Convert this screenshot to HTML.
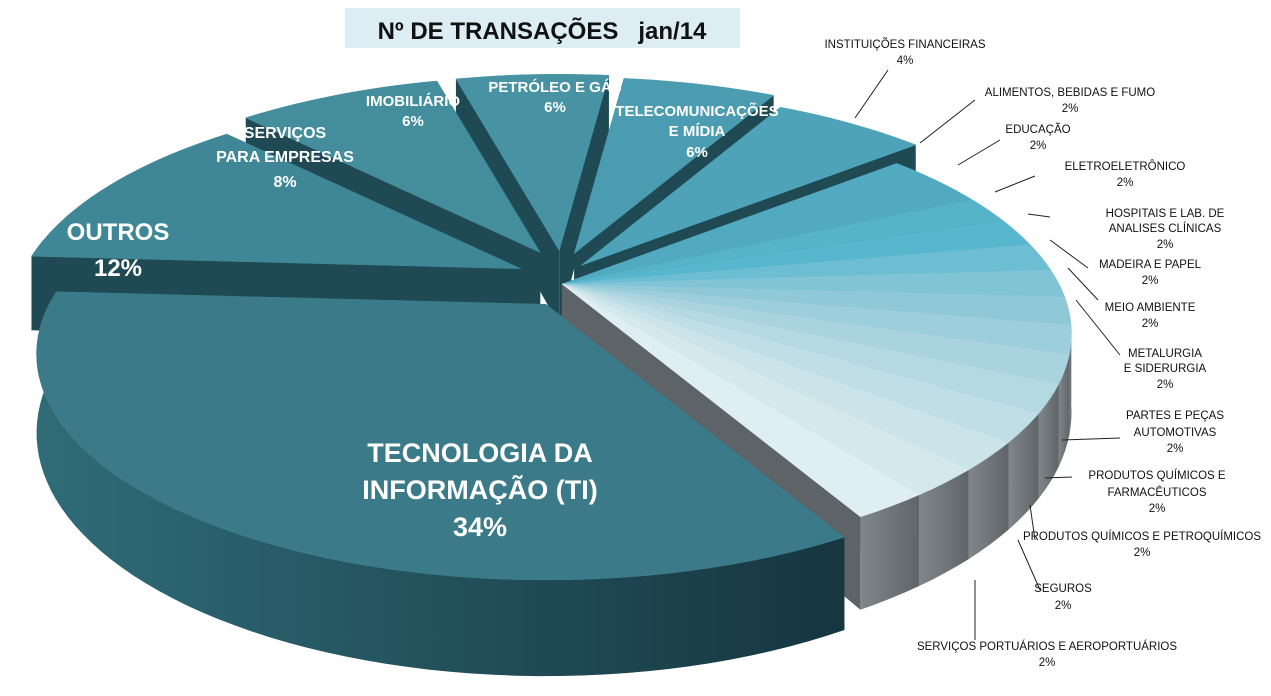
<!DOCTYPE html>
<html><head><meta charset="utf-8">
<style>
html,body{margin:0;padding:0;background:#fff;}
svg{display:block;font-family:"Liberation Sans",sans-serif;}
.w{fill:#fff;font-weight:bold;text-anchor:middle;}
.k{fill:#111;font-size:11.5px;text-anchor:middle;}
.ld{stroke:#222;stroke-width:1;fill:none;}
</style></head>
<body>
<svg id="s" width="1271" height="696" viewBox="0 0 1271 696" xmlns="http://www.w3.org/2000/svg">
<defs>
<linearGradient id="gTI" x1="0" y1="0" x2="1" y2="0"><stop offset="0" stop-color="#2f6c78"/><stop offset="1" stop-color="#163640"/></linearGradient>
<linearGradient id="gGr" x1="0" y1="0" x2="1" y2="0"><stop offset="0" stop-color="#80868a"/><stop offset="1" stop-color="#5f6569"/></linearGradient>
</defs>
<g id="pie"></g>
<rect x="345" y="8" width="395" height="40" fill="#dcedf3"/>
<text x="542" y="39" text-anchor="middle" font-size="24" font-weight="bold" fill="#111">Nº DE TRANSAÇÕES &#160;&#160;jan/14</text>

<g class="w">
<text x="480" y="462" font-size="27">TECNOLOGIA DA</text>
<text x="480" y="499" font-size="27">INFORMAÇÃO (TI)</text>
<text x="480" y="536" font-size="27">34%</text>
<text x="118" y="240" font-size="24">OUTROS</text>
<text x="118" y="276" font-size="24">12%</text>
<text x="285" y="138" font-size="16">SERVIÇOS</text>
<text x="285" y="162" font-size="16">PARA EMPRESAS</text>
<text x="285" y="187" font-size="16">8%</text>
<text x="413" y="106" font-size="15">IMOBILIÁRIO</text>
<text x="413" y="126" font-size="15">6%</text>
<text x="555" y="92" font-size="15">PETRÓLEO E GÁS</text>
<text x="555" y="112" font-size="15">6%</text>
<text x="697" y="116" font-size="15">TELECOMUNICAÇÕES</text>
<text x="697" y="136" font-size="15">E MÍDIA</text>
<text x="697" y="157" font-size="15">6%</text>
</g>

<g class="k">
<text x="905" y="48">INSTITUIÇÕES FINANCEIRAS</text><text x="905" y="64">4%</text>
<text x="1070" y="96">ALIMENTOS, BEBIDAS E FUMO</text><text x="1070" y="112">2%</text>
<text x="1038" y="133">EDUCAÇÃO</text><text x="1038" y="149">2%</text>
<text x="1125" y="170">ELETROELETRÔNICO</text><text x="1125" y="186">2%</text>
<text x="1165" y="217">HOSPITAIS E LAB. DE</text><text x="1165" y="232">ANALISES CLÍNICAS</text><text x="1165" y="248">2%</text>
<text x="1150" y="268">MADEIRA E PAPEL</text><text x="1150" y="284">2%</text>
<text x="1150" y="311">MEIO AMBIENTE</text><text x="1150" y="327">2%</text>
<text x="1165" y="357">METALURGIA</text><text x="1165" y="372">E SIDERURGIA</text><text x="1165" y="388">2%</text>
<text x="1175" y="419">PARTES E PEÇAS</text><text x="1175" y="436">AUTOMOTIVAS</text><text x="1175" y="452">2%</text>
<text x="1157" y="479">PRODUTOS QUÍMICOS E</text><text x="1157" y="496">FARMACÊUTICOS</text><text x="1157" y="512">2%</text>
<text x="1142" y="540">PRODUTOS QUÍMICOS E PETROQUÍMICOS</text><text x="1142" y="556">2%</text>
<text x="1063" y="592">SEGUROS</text><text x="1063" y="609">2%</text>
<text x="1047" y="650">SERVIÇOS PORTUÁRIOS E AEROPORTUÁRIOS</text><text x="1047" y="666">2%</text>
</g>
<g class="ld">
<path d="M888 70 L855 118"/>
<path d="M975 100 L920 143"/>
<path d="M1000 140 L958 165"/>
<path d="M1035 176 L995 192"/>
<path d="M1050 217 L1028 214"/>
<path d="M1088 268 L1050 240"/>
<path d="M1098 300 L1068 268"/>
<path d="M1120 355 L1076 300"/>
<path d="M1120 438 L1062 440"/>
<path d="M1072 477 L1045 478"/>
<path d="M1035 540 L1030 505"/>
<path d="M1040 590 L1018 540"/>
<path d="M975 640 L975 580"/>
</g>
</svg>
<script>
(function(){
var cx=562,cy=284,rx=497,ry=215,D=75,A=0.22;
var pcts=[34,12,8,6,6,6,4,2,2,2,2,2,2,2,2,2,2,2,2];
var tops=["#3b7b89","#3f8696","#438d9c","#4793a3","#4b9cb0","#4fa3b8","#52aac0",
"#55b3ca","#58b7ce","#6dbed2","#80c4d5","#8fc9d8","#9dcedb","#a9d3de","#b5d9e2","#c0dee6","#cae4ea","#d4e9ee","#deeef2"];
var expl=[30,45,45,42,40,30,0,0,0,0,0,0,0,0,0,0,0,0,0];
var a=61,sl=[];
for(var i=0;i<pcts.length;i++){var s=a,e=a+pcts[i]*3.6;a=e;var m=(s+e)/2*Math.PI/180;
sl.push({s:s,e:e,dx:expl[i]*Math.cos(m),dy:expl[i]*Math.sin(m)*0.8,c:tops[i],i:i});}
function P(t,o,dz){var r=t*Math.PI/180,u=Math.cos(r),v=Math.sin(r),sc=1/(1-A*v);
return [cx+o.dx+rx*u*sc,cy+o.dy+ry*v*sc+(dz||0)*sc];}
function pts(o,s,e,dz,rev){var out=[],n=Math.max(2,Math.ceil((e-s)/2));for(var k=0;k<=n;k++){var kk=rev?n-k:k;var p=P(s+(e-s)*kk/n,o,dz);out.push(p[0].toFixed(1)+" "+p[1].toFixed(1));}return out;}
var g=document.getElementById("pie"),h="";
var order=sl.slice().sort(function(x,y){return Math.sin(((x.s+x.e)/2)*Math.PI/180)-Math.sin(((y.s+y.e)/2)*Math.PI/180);});
order.forEach(function(o){
 var gray=o.i>=7, wc=o.i==0?"url(#gTI)":(gray?"url(#gGr)":"#2a5c68");
 var C=[cx+o.dx,cy+o.dy];
 [o.s,o.e].forEach(function(t){var p=P(t,o),q=P(t,o,D);
  h+='<path d="M'+C[0]+' '+C[1]+'L'+p[0]+' '+p[1]+'L'+q[0]+' '+q[1]+'L'+C[0]+' '+(C[1]+D)+'Z" fill="'+(gray?"#5d6367":"#1f4a54")+'"/>';});
 [[0,180],[360,540]].forEach(function(r){var s=Math.max(o.s,r[0]),e=Math.min(o.e,r[1]);
  if(e>s){h+='<path d="M'+pts(o,s,e,0,false).join("L")+"L"+pts(o,s,e,D,true).join("L")+'Z" fill="'+wc+'"/>';}});
});
sl.forEach(function(o){var C=[cx+o.dx,cy+o.dy];
 h+='<path d="M'+C[0]+' '+C[1]+'L'+pts(o,o.s,o.e,0,false).join("L")+'Z" fill="'+o.c+'" stroke="'+o.c+'" stroke-width="0.5"/>';});
g.innerHTML=h;
})();
</script>
</body></html>
